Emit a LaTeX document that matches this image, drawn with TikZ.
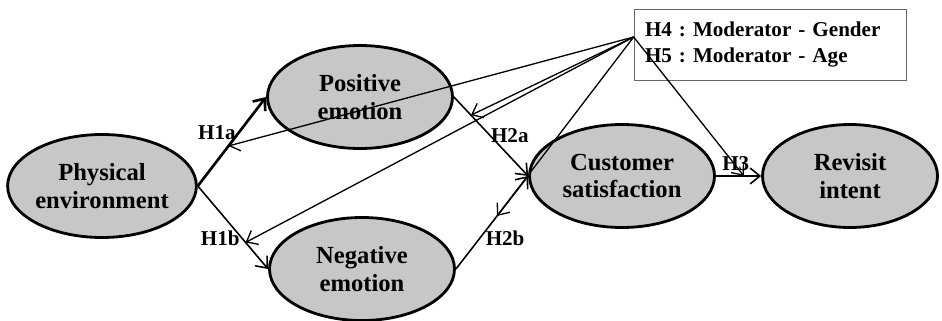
\documentclass[tikz,border=0pt]{standalone}
\usepackage{fontspec}
\setmainfont{Liberation Serif}
\usepackage{tikz}
\usetikzlibrary{shapes.geometric,arrows.meta}

\begin{document}
\begin{tikzpicture}
		[construct/.style={ellipse,draw=black,fill=black!22,line width=1.6pt,
inner sep=0pt,minimum width=3.7cm,minimum height=2.06cm,align=center,
font=\fontsize{14}{15.5}\selectfont\bfseries},
		modbox/.style={rectangle,draw=black!60,thin,inner sep=0.22cm,
text width=5.0cm,minimum height=1.42cm,align=left,
font=\fontsize{12}{14.7}\selectfont\bfseries\frenchspacing},
		hyplabel/.style={font=\fontsize{12}{14}\selectfont\bfseries,inner sep=1pt},
		link/.style={->,line width=0.9pt},
		modlink/.style={->,line width=0.75pt},
		>={Straight Barb[length=5.5pt,width=9pt]}]
	\useasboundingbox (0,0) rectangle (18.84,6.4);
	\node at (2.04, 2.68) (phys) [construct] {Physical\\environment};
	\node at (7.20, 4.46) (pos) [construct] {Positive\\emotion};
	\node at (7.24, 1.02) (neg) [construct] {Negative\\emotion};
	\node at (12.44, 2.88) (cust) [construct] {Customer\\satisfaction};
	\node at (17.00, 2.88) (rev) [construct,minimum width=3.5cm] {Revisit\\intent};
	\node at (15.40, 5.51) (mods) [modbox] {H4 : Moderator - Gender\\H5 : Moderator - Age};
	\coordinate (mod) at ([yshift=0.15cm]mods.west);
	% hypotheses
	\draw [link,line width=1.5pt] (phys.east) -- node[hyplabel,pos=0.6,left] {H1a}
		coordinate[pos=0.45] (h1a) (pos.west);
	\draw [link] (phys.east) -- node[hyplabel,pos=0.63,left] {H1b}
		coordinate[pos=0.68] (h1b) (neg.west);
	\draw [link] (pos.east) -- node[hyplabel,pos=0.49,right,inner sep=0pt] {H2a}
		coordinate[pos=0.23] (h2a) (cust.west);
	\draw [link] (neg.east) -- node[hyplabel,pos=0.33,right,inner sep=3pt] {H2b}
		coordinate[pos=0.57] (h2b) (cust.west);
	\draw [link] (cust.east) -- node[hyplabel,pos=0.44,above,inner sep=2.5pt] {H3}
		coordinate[pos=0.62] (h3) (rev.west);
	% moderators
	\draw [modlink] (mod) -- (h1a);
	\draw [modlink] (mod) -- (h1b);
	\draw [modlink] (mod) -- (h2a);
	\draw [modlink] (mod) -- (h2b);
	\draw [modlink] (mod) -- (h3);
\end{tikzpicture}
\end{document}
